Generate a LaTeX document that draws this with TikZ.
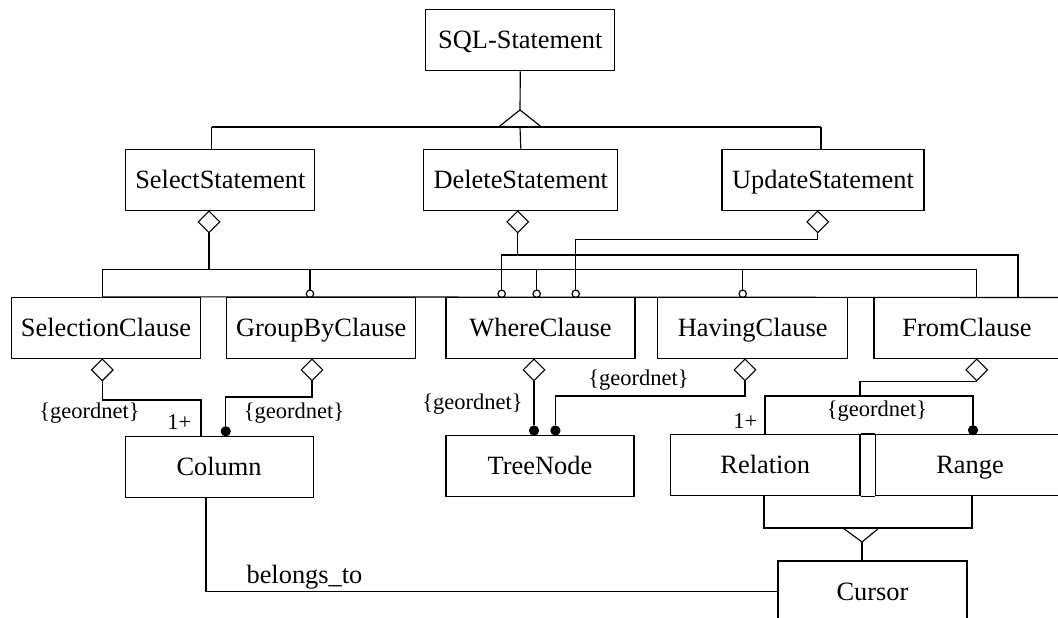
\documentclass[tikz,border=0pt]{standalone}
\usepackage{fontspec}
\setmainfont{Liberation Serif}
\usetikzlibrary{shapes.geometric}
\begin{document}
\begin{tikzpicture}[x=1pt,y=-1pt,line width=1.15pt,
  cls/.style={draw,rectangle,inner sep=0pt,minimum height=61pt,
    text height=17.4pt,text depth=0pt,
    font=\fontsize{26.4}{30}\selectfont},
  agg/.style={draw,diamond,fill=white,inner sep=0pt,minimum width=22pt,
    minimum height=22pt,anchor=north},
  opt/.style={draw,circle,fill=white,inner sep=0pt,minimum size=7.4pt},
  many/.style={draw,circle,fill=black,inner sep=0pt,minimum size=9pt},
  lbl/.style={inner sep=0pt,font=\fontsize{22.5}{26}\selectfont},
]
\useasboundingbox (0,0) rectangle (1058,618);
\clip (0,0) rectangle (1058,618);

% ---- classes ----
\node[cls,minimum width=189pt] (sql) at (520.3,40.3) {SQL-Statement};
\node[cls,minimum width=189pt] (sel) at (220.3,179.6) {SelectStatement};
\node[cls,minimum width=194pt] (del) at (520.8,179.6) {DeleteStatement};
\node[cls,minimum width=202pt] (upd) at (823,179.6) {UpdateStatement};

\node[cls,minimum width=188.6pt] (selc) at (106,327.9) {SelectionClause};
\node[cls,minimum width=189pt] (grp) at (321.2,327.9) {GroupByClause};
\node[cls,minimum width=189pt] (whr) at (540.5,327.9) {WhereClause};
\node[cls,minimum width=190pt] (hav) at (752.7,327.9) {HavingClause};
\node[cls,minimum width=186pt] (frm) at (967,327.9) {FromClause};

\node[cls,minimum width=188pt] (col) at (219.1,466.8) {Column};
\node[cls,minimum width=188pt] (tree) at (540,465.8) {TreeNode};
\node[cls,minimum width=189.5pt] (rel) at (765.2,465) {Relation};
\node[cls,minimum width=189pt] (rng) at (970,465) {Range};
\node[cls,minimum width=189pt] (cur) at (872.5,591.5) {Cursor};

% ---- generalisation of the statements ----
\coordinate (gen) at (520,110);
\draw (sql.south) -- (gen);
\draw (211.7,127) -- (821,127);
\draw (gen) -- +(-21.5,17) -- +(21.5,17) -- cycle;
\draw (211.7,127) -- ([xshift=-8.6pt]sel.north);
\draw (520,127) -- (del.north);
\draw (821,127) -- ([xshift=-2pt]upd.north);

% ---- aggregation diamonds under the statements ----
\node[agg] (dsel) at (209,210.3) {};
\node[agg] (ddel) at (517.7,210.3) {};
\node[agg] (dupd) at (817.7,210.3) {};

% optional-role circles on the clause row
\node[opt] (ogrp) at (310,293.8) {};
\node[opt] (owd)  at (501.7,293.8) {};
\node[opt] (ows)  at (536.7,293.8) {};
\node[opt] (owu)  at (575.7,293.8) {};
\node[opt] (ohav) at (742.7,293.8) {};

% SelectStatement bus
\draw (dsel.south) -- (209,269.3);
\draw ([xshift=-3.3pt]selc.north) -- (102.7,269.3) -- (976.7,269.3)
      -- ([xshift=9.7pt]frm.north);
\draw (310,269.3) -- (ogrp.north);
\draw (536.7,269.3) -- (ows.north);
\draw (742.7,269.3) -- (ohav.north);

% DeleteStatement bus
\draw (ddel.south) -- (517.7,255);
\draw (owd.north) -- (501.7,255) -- (1018,255) -- ([xshift=51pt]frm.north);

% UpdateStatement link
\draw (dupd.south) -- (817.7,239.3) -- (575.7,239.3) -- (owu.north);

% common top line of the clause row
\draw ([xshift=-3.3pt]selc.north) -- (1070,297.5);

% ---- aggregation diamonds under the clauses ----
\node[agg] (dselc) at (102.3,358.3) {};
\node[agg] (dgrp)  at (312,358.3) {};
\node[agg] (dwhr)  at (534,358.3) {};
\node[agg] (dhav)  at (745,358.3) {};
\node[agg] (dfrm)  at (976.7,358.3) {};

% many-role dots
\node[many] (mgrp)  at (225.7,431.3) {};
\node[many] (mwhr)  at (534,430.5) {};
\node[many] (mhav)  at (555.4,430.5) {};
\node[many] (mrng)  at (973,430.2) {};

% SelectionClause -> Column
\draw (dselc.south) -- (102.3,400) -- (201,400) -- ([xshift=-18.1pt]col.north);
\node[lbl] at (89.5,413) {\{geordnet\}};
\node[lbl,anchor=east] at (192,422) {1+};

% GroupByClause -> Column
\draw (dgrp.south) -- (312,397) -- (225.7,397) -- (mgrp.north);
\node[lbl] at (294,413) {\{geordnet\}};

% WhereClause -> TreeNode
\draw (dwhr.south) -- (mwhr.north);
\node[lbl] at (472.5,404) {\{geordnet\}};

% HavingClause -> TreeNode
\draw (dhav.south) -- (745,396) -- (555.4,396) -- (mhav.north);
\node[lbl] at (638.5,380) {\{geordnet\}};

% FromClause -> Relation, Range
\draw (dfrm.south) -- (976.7,381.5) -- (860,381.5) -- (860,396);
\draw ([xshift=-0.2pt]rel.north) -- (765,396) -- (973,396) -- (mrng.north);
\node[lbl] at (877,411) {\{geordnet\}};
\node[lbl,anchor=east] at (758,421) {1+};

% joint edges between Relation and Range
\draw (rel.north east) -- (rng.north west);
\draw (rel.south east) -- (rng.south west);

% generalisation of Relation and Range
\coordinate (gen2) at (862,542);
\draw ([xshift=-1.2pt]rel.south) -- (764,528) -- (972,528) -- ([xshift=2pt]rng.south);
\draw (gen2) -- +(-19,-14) -- +(17,-14) -- cycle;
\draw (gen2) -- ([xshift=-10.5pt]cur.north);

% Column belongs_to Cursor
\draw ([xshift=-13.1pt]col.south) |- (cur.west);
\node[anchor=base west,inner sep=0pt,font=\fontsize{26.4}{30}\selectfont]
  at (246,583) {belongs\_to};
\end{tikzpicture}
\end{document}
